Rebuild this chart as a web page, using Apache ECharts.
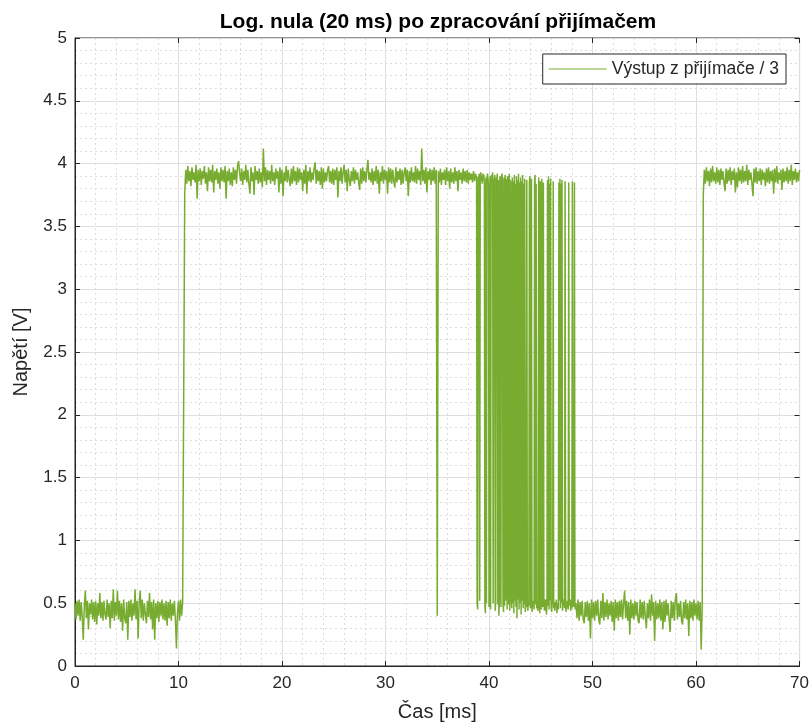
<!DOCTYPE html>
<html>
<head>
<meta charset="utf-8">
<script src="https://cdn.jsdelivr.net/npm/echarts@6/dist/echarts.min.js"></script>
<style>html,body{margin:0;padding:0;background:#fff}#c{width:812px;height:727px}</style>
</head>
<body>
<div id="c"></div>
<script>
const titleText = 'Log. nula (20 ms) po zpracování přijímačem';
const seriesName = 'Výstup z přijímače / 3';
const xName = 'Čas [ms]';
const yName = 'Napětí [V]';

// Segment 1: low level, 0 .. 10.5 ms (0.1 ms step)
const low1Span = [0, 10.5];
const low1 = [
0.50,0.37,0.52,0.40,0.53,0.36,0.51,0.39,0.21,0.48,
0.60,0.38,0.52,0.29,0.50,0.41,0.53,0.37,0.51,0.35,
0.52,0.33,0.50,0.40,0.58,0.38,0.51,0.36,0.52,0.41,
0.37,0.53,0.39,0.50,0.30,0.52,0.38,0.61,0.36,0.51,
0.40,0.60,0.37,0.52,0.35,0.50,0.28,0.53,0.38,0.34,
0.51,0.21,0.52,0.39,0.53,0.36,0.50,0.40,0.61,0.37,
0.52,0.22,0.51,0.60,0.38,0.53,0.36,0.50,0.41,0.34,
0.52,0.39,0.58,0.37,0.51,0.29,0.53,0.21,0.50,0.38,
0.52,0.35,0.51,0.40,0.53,0.37,0.50,0.36,0.52,0.32,
0.51,0.38,0.53,0.36,0.50,0.40,0.52,0.37,0.14,0.42,
0.52,0.36,0.53,0.40,0.51,0.52];

// Segment 2: high level, 10.6 .. 38.7 ms (0.1 ms step)
const high1Span = [10.6, 38.7];
const high1 = [
3.76,3.95,3.84,3.98,3.86,3.94,3.82,3.97,3.87,3.93,
3.85,3.99,3.72,3.95,3.86,3.96,3.83,3.94,3.88,3.98,
3.84,3.93,3.78,3.97,3.86,3.95,3.85,3.99,3.77,3.94,
3.87,3.96,3.84,3.93,3.80,3.97,3.86,3.95,3.85,3.98,
3.72,3.94,3.86,3.96,3.83,3.93,3.82,3.97,3.87,3.95,
3.84,3.98,4.02,3.93,3.86,3.96,3.83,3.94,3.87,3.99,
3.85,3.95,3.84,3.76,3.97,3.86,3.93,3.75,3.98,3.87,
3.94,3.84,3.96,3.85,3.93,3.81,4.12,3.86,3.97,3.83,
3.95,3.87,3.94,3.84,3.99,3.86,3.93,3.83,3.96,3.88,
3.94,3.77,3.97,3.84,3.95,3.74,3.93,3.86,3.98,3.85,
3.95,3.87,3.82,3.96,3.84,3.98,3.86,3.94,3.83,3.97,
3.85,3.96,3.87,3.93,3.78,3.95,3.84,3.99,3.76,3.94,
3.86,3.97,3.85,3.93,3.87,3.96,4.01,3.84,3.95,3.86,
3.94,3.83,3.97,3.80,3.96,3.85,3.93,3.86,3.95,3.98,
3.85,3.94,3.84,3.96,3.83,3.95,3.87,3.97,3.73,3.94,
3.86,3.97,3.84,3.93,3.99,3.85,3.95,3.78,3.96,3.87,
3.82,3.94,3.86,3.97,3.84,3.95,3.87,3.93,3.85,3.79,
3.96,3.84,3.97,3.86,3.94,3.85,3.95,4.03,3.87,3.93,
3.85,3.96,3.83,3.94,3.86,3.98,3.84,3.95,3.76,3.93,
3.86,3.98,3.84,3.95,3.87,3.94,3.76,3.97,3.85,3.96,
3.84,3.95,3.86,3.81,3.97,3.85,3.94,3.87,3.96,3.83,
3.95,3.84,3.93,3.97,3.86,3.95,3.74,3.94,3.85,3.97,
3.86,3.93,3.85,3.98,3.84,3.96,3.87,3.94,3.83,4.12,
3.86,3.95,3.84,3.97,3.77,3.94,3.87,3.96,3.83,3.95,
3.86,3.97,3.84,3.95,0.40,3.94,3.85,3.96,3.83,3.93,
3.87,3.95,3.83,3.97,3.86,3.94,3.80,3.96,3.85,3.93,
3.84,3.97,3.86,3.94,3.78,3.95,3.87,3.93,3.84,3.96,
3.86,3.94,3.85,3.95,3.84,3.93,3.87,3.92,3.85,3.94,
3.86,3.92];

// Segment 3: burst of switching, 38.8 .. 48.35 ms (0.05 ms step)
const burstSpan = [38.8, 48.35];
const burst = [
3.88,0.50,0.45,3.90,3.85,3.92,0.52,3.88,3.93,3.86,
3.90,3.84,3.92,3.87,3.91,3.85,0.48,0.42,3.89,0.50,
3.86,3.92,3.88,3.84,0.47,0.52,3.90,0.45,3.87,3.91,
3.85,3.93,0.50,3.88,3.84,3.91,0.44,0.51,3.89,3.86,
3.92,0.49,3.87,0.40,0.52,3.90,3.85,0.47,3.88,3.92,
3.86,0.50,0.43,3.89,0.48,3.91,3.84,0.52,3.88,0.45,
3.90,3.86,0.49,3.92,0.44,3.87,3.85,0.51,0.46,3.89,
0.50,3.86,0.42,3.91,0.52,3.84,0.47,3.90,0.38,3.87,
0.53,3.92,0.45,3.85,0.50,3.89,0.41,3.86,0.52,3.91,
0.46,3.84,0.49,3.88,0.43,0.51,0.47,3.87,0.50,0.44,
0.52,0.48,3.85,3.90,0.46,0.50,3.88,0.43,0.51,0.47,
0.52,0.45,3.86,3.91,0.49,3.84,0.46,0.52,0.44,0.50,
3.89,0.48,0.42,3.86,0.51,0.45,3.88,0.50,0.47,3.85,
0.52,0.44,0.49,0.53,0.46,0.41,0.50,3.87,0.48,3.90,
0.45,3.84,0.52,3.88,0.47,0.43,0.50,0.52,3.86,0.46,
0.49,0.44,0.51,0.47,0.53,0.42,0.48,0.50,0.45,3.85,
0.52,3.88,0.46,3.84,0.50,3.87,0.44,0.51,0.48,0.53,
0.46,3.86,0.50,0.43,0.52,0.47,0.49,0.45,3.85,0.51,
0.48,0.53,0.44,0.50,0.46,3.86,0.52,0.47,0.50,3.85,
0.48,0.45];

// Segment 4: low level, 48.4 .. 60.6 ms (0.1 ms step)
const low2Span = [48.4, 60.6];
const low2 = [
0.50,0.38,0.53,0.36,0.51,0.40,0.52,0.37,0.34,0.51,
0.39,0.52,0.36,0.50,0.22,0.53,0.38,0.51,0.36,0.52,
0.40,0.53,0.37,0.33,0.52,0.38,0.58,0.36,0.51,0.39,
0.53,0.37,0.50,0.40,0.52,0.35,0.51,0.28,0.53,0.38,
0.51,0.36,0.52,0.39,0.53,0.37,0.50,0.60,0.38,0.52,
0.36,0.51,0.25,0.53,0.38,0.50,0.37,0.52,0.40,0.51,
0.36,0.34,0.53,0.38,0.51,0.37,0.52,0.39,0.30,0.50,
0.38,0.53,0.36,0.57,0.40,0.51,0.20,0.52,0.37,0.50,
0.38,0.53,0.36,0.51,0.29,0.52,0.35,0.53,0.40,0.50,
0.37,0.27,0.52,0.38,0.51,0.36,0.53,0.58,0.37,0.50,
0.39,0.52,0.36,0.33,0.51,0.38,0.53,0.37,0.50,0.24,
0.52,0.38,0.51,0.36,0.53,0.40,0.50,0.37,0.52,0.36,
0.51,0.13,0.50];

// Segment 5: high level, 60.7 .. 70.0 ms (0.1 ms step)
const high2Span = [60.7, 70.0];
const high2 = [
3.75,3.95,3.84,3.97,3.86,3.94,3.82,3.96,3.85,3.98,
3.86,3.93,3.84,3.97,3.85,3.95,3.83,3.96,3.87,3.94,
3.85,3.78,3.96,3.84,3.95,3.86,3.97,3.83,3.94,3.87,
3.96,3.77,3.93,3.81,3.97,3.86,3.95,3.84,3.98,3.85,
3.94,3.86,3.99,3.83,3.95,3.87,3.93,3.84,3.74,3.96,
3.85,3.97,3.84,3.94,3.86,3.96,3.83,3.95,3.87,3.93,
3.82,3.96,3.85,3.97,3.84,3.94,3.86,3.95,3.76,3.96,
3.85,3.98,3.84,3.93,3.87,3.95,3.79,3.96,3.85,3.94,
3.86,3.97,3.84,3.95,3.86,3.99,3.83,3.94,3.87,3.96,
3.85,3.93,3.86,3.95];

const segments = [
  [low1Span, low1], [high1Span, high1], [burstSpan, burst],
  [low2Span, low2], [high2Span, high2]
];
const data = [];
segments.forEach(([span, vals]) => {
  const step = (span[1] - span[0]) / (vals.length - 1);
  vals.forEach((v, i) => data.push([+(span[0] + i * step).toFixed(4), v]));
});

const txt = '#262626';
const green = '#77AC30';
const font = 'Liberation Sans, Arial, Helvetica, sans-serif';
const chart = echarts.init(document.getElementById('c'), null, {renderer: 'canvas'});

// tick-only helper axes, shifted 5px into the plot so outward ticks sit inside the box
function tickAxis(base, position) {
  return Object.assign({}, base, {
    position: position, offset: -5,
    axisLine: {show: false, onZero: false},
    axisTick: {show: true, inside: false, length: 5, lineStyle: {color: txt, width: 1}},
    axisLabel: {show: false}, splitLine: {show: false}, minorSplitLine: {show: false},
    name: ''
  });
}
const xBase = {type: 'value', min: 0, max: 70, interval: 10};
const yBase = {type: 'value', min: 0, max: 5, interval: 0.5};

chart.setOption({
  animation: false,
  backgroundColor: '#fff',
  title: {
    text: titleText, left: 433, top: 7, textAlign: 'center',
    textStyle: {fontFamily: font, fontSize: 21, fontWeight: 'bold', color: '#000'}
  },
  legend: {
    data: [{name: seriesName, icon: 'rect'}], right: 26, top: 54, orient: 'vertical',
    backgroundColor: '#fff', borderColor: txt, borderWidth: 1, borderRadius: 0,
    padding: [6, 7, 6, 6], itemWidth: 58, itemHeight: 1.2, itemGap: 5,
    itemStyle: {color: green, borderWidth: 0},
    textStyle: {fontFamily: font, fontSize: 17.5, color: txt}
  },
  grid: {left: 75, right: 12, top: 38, bottom: 59, containLabel: false,
         show: true, borderColor: txt, borderWidth: 1, backgroundColor: 'transparent'},
  xAxis: [Object.assign({}, xBase, {
    position: 'bottom',
    name: xName, nameLocation: 'middle', nameGap: 36,
    nameTextStyle: {fontFamily: font, fontSize: 20, color: txt},
    axisLine: {show: true, onZero: false, lineStyle: {color: txt, width: 1}},
    axisTick: {show: false},
    axisLabel: {fontFamily: font, fontSize: 17, color: txt, margin: 9},
    splitLine: {show: true, lineStyle: {color: '#dedede', width: 1}},
    minorTick: {show: false, splitNumber: 5},
    minorSplitLine: {show: true, lineStyle: {color: '#dcdcdc', width: 1, type: [2, 3]}}
  }), tickAxis(xBase, 'bottom'), tickAxis(xBase, 'top')],
  yAxis: [Object.assign({}, yBase, {
    position: 'left',
    name: yName, nameLocation: 'middle', nameGap: 44, nameRotate: 90,
    nameTextStyle: {fontFamily: font, fontSize: 20, color: txt},
    axisLine: {show: true, onZero: false, lineStyle: {color: txt, width: 1}},
    axisTick: {show: false},
    axisLabel: {fontFamily: font, fontSize: 17, color: txt, margin: 8},
    splitLine: {show: true, lineStyle: {color: '#dedede', width: 1}},
    minorTick: {show: false, splitNumber: 5},
    minorSplitLine: {show: true, lineStyle: {color: '#dcdcdc', width: 1, type: [2, 3]}}
  }), tickAxis(yBase, 'left'), tickAxis(yBase, 'right')],
  series: [{
    name: seriesName, type: 'line', data: data, xAxisIndex: 0, yAxisIndex: 0,
    showSymbol: false, symbol: 'none', sampling: null,
    lineStyle: {color: green, width: 1.5}, itemStyle: {color: green},
    emphasis: {disabled: true}
  }]
});
</script>
</body>
</html>
